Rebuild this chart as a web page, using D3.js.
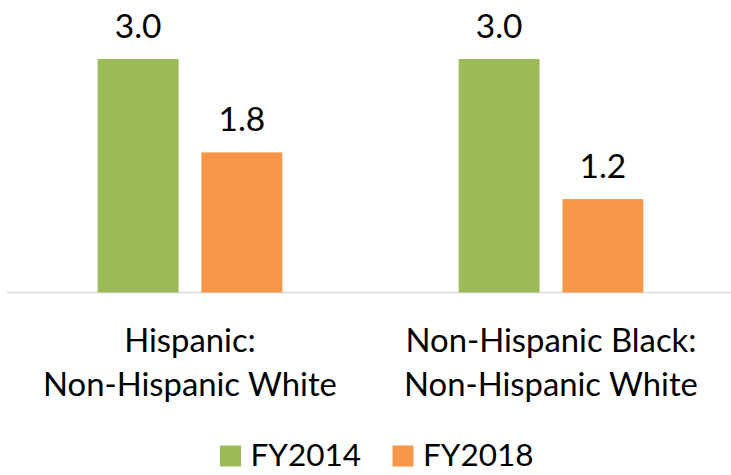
<!DOCTYPE html>
<meta charset="utf-8">
<head>
  <script src="https://d3js.org/d3.v7.min.js"></script>
  <style>
    html, body {
      margin: 0;
      padding: 0;
      background: #fff;
    }
    text {
      font-family: Lato, "Open Sans", sans-serif;
      fill: #000;
    }
  </style>
</head>
<body>
  <svg id="chart" width="731" height="475"></svg>
</body>
<script>
  // data
  const categories = [
    ["Hispanic:", "Non-Hispanic White"],
    ["Non-Hispanic Black:", "Non-Hispanic White"]
  ]
  const seriesNames = ["FY2014", "FY2018"]
  const fy2014 = [3.0, 3.0]
  const fy2018 = [1.8, 1.2]
  const colors = ["#9bbb59", "#f79646"]

  const width = 731, height = 475
  const svg = d3.select("#chart")

  const rows = categories.map((c, i) => ({ key: i, label: c, values: [fy2014[i], fy2018[i]] }))

  let x0 = d3.scaleBand()
    .domain(rows.map(d => d.key))
    .range([9.5, 731.5])
    .paddingInner(0)

  let x1 = d3.scaleBand()
    .domain(seriesNames)
    .range([0, x0.bandwidth()])
    .paddingInner(0.22)
    .paddingOuter(0.85)

  let y = d3.scaleLinear()
    .domain([0, 3])
    .range([292.5, 59])

  let color = d3.scaleOrdinal().domain(seriesNames).range(colors)

  // baseline
  svg.append("line")
    .attr("x1", 7).attr("x2", width)
    .attr("y1", y(0)).attr("y2", y(0))
    .attr("stroke", "#d9d9d9")
    .attr("stroke-width", 1.5)

  let groups = svg.append("g").selectAll("g")
    .data(rows)
    .enter().append("g")
    .attr("transform", d => "translate(" + x0(d.key) + ",0)")

  let cells = groups.selectAll("g")
    .data(d => d.values.map((v, j) => ({ name: seriesNames[j], value: v })))
    .enter().append("g")

  cells.append("rect")
    .attr("x", d => x1(d.name))
    .attr("y", d => y(d.value))
    .attr("width", x1.bandwidth())
    .attr("height", d => y(0) - y(d.value))
    .attr("fill", d => color(d.name))

  cells.append("text")
    .attr("x", d => x1(d.name) + x1.bandwidth() / 2)
    .attr("y", d => y(d.value) - 21.5)
    .attr("text-anchor", "middle")
    .style("font-size", "33.5px")
    .text(d => d.value.toFixed(1))

  // category labels
  let catLabel = groups.append("text")
    .attr("text-anchor", "middle")
    .style("font-size", "32.8px")
  catLabel.selectAll("tspan")
    .data(d => d.label)
    .enter().append("tspan")
    .attr("x", x0.bandwidth() / 2)
    .attr("y", (d, i) => 351.7 + i * 44.3)
    .text(d => d)

  // legend
  let legendX = d3.scalePoint().domain(seriesNames).range([220, 392.5])
  let legend = svg.append("g").selectAll("g")
    .data(seriesNames)
    .enter().append("g")
    .attr("transform", d => "translate(" + legendX(d) + ",445.5)")
  legend.append("rect")
    .attr("width", 21).attr("height", 21)
    .attr("fill", d => color(d))
  legend.append("text")
    .attr("x", 30.5)
    .attr("y", 20.3)
    .style("font-size", "31.5px")
    .text(d => d)
</script>
